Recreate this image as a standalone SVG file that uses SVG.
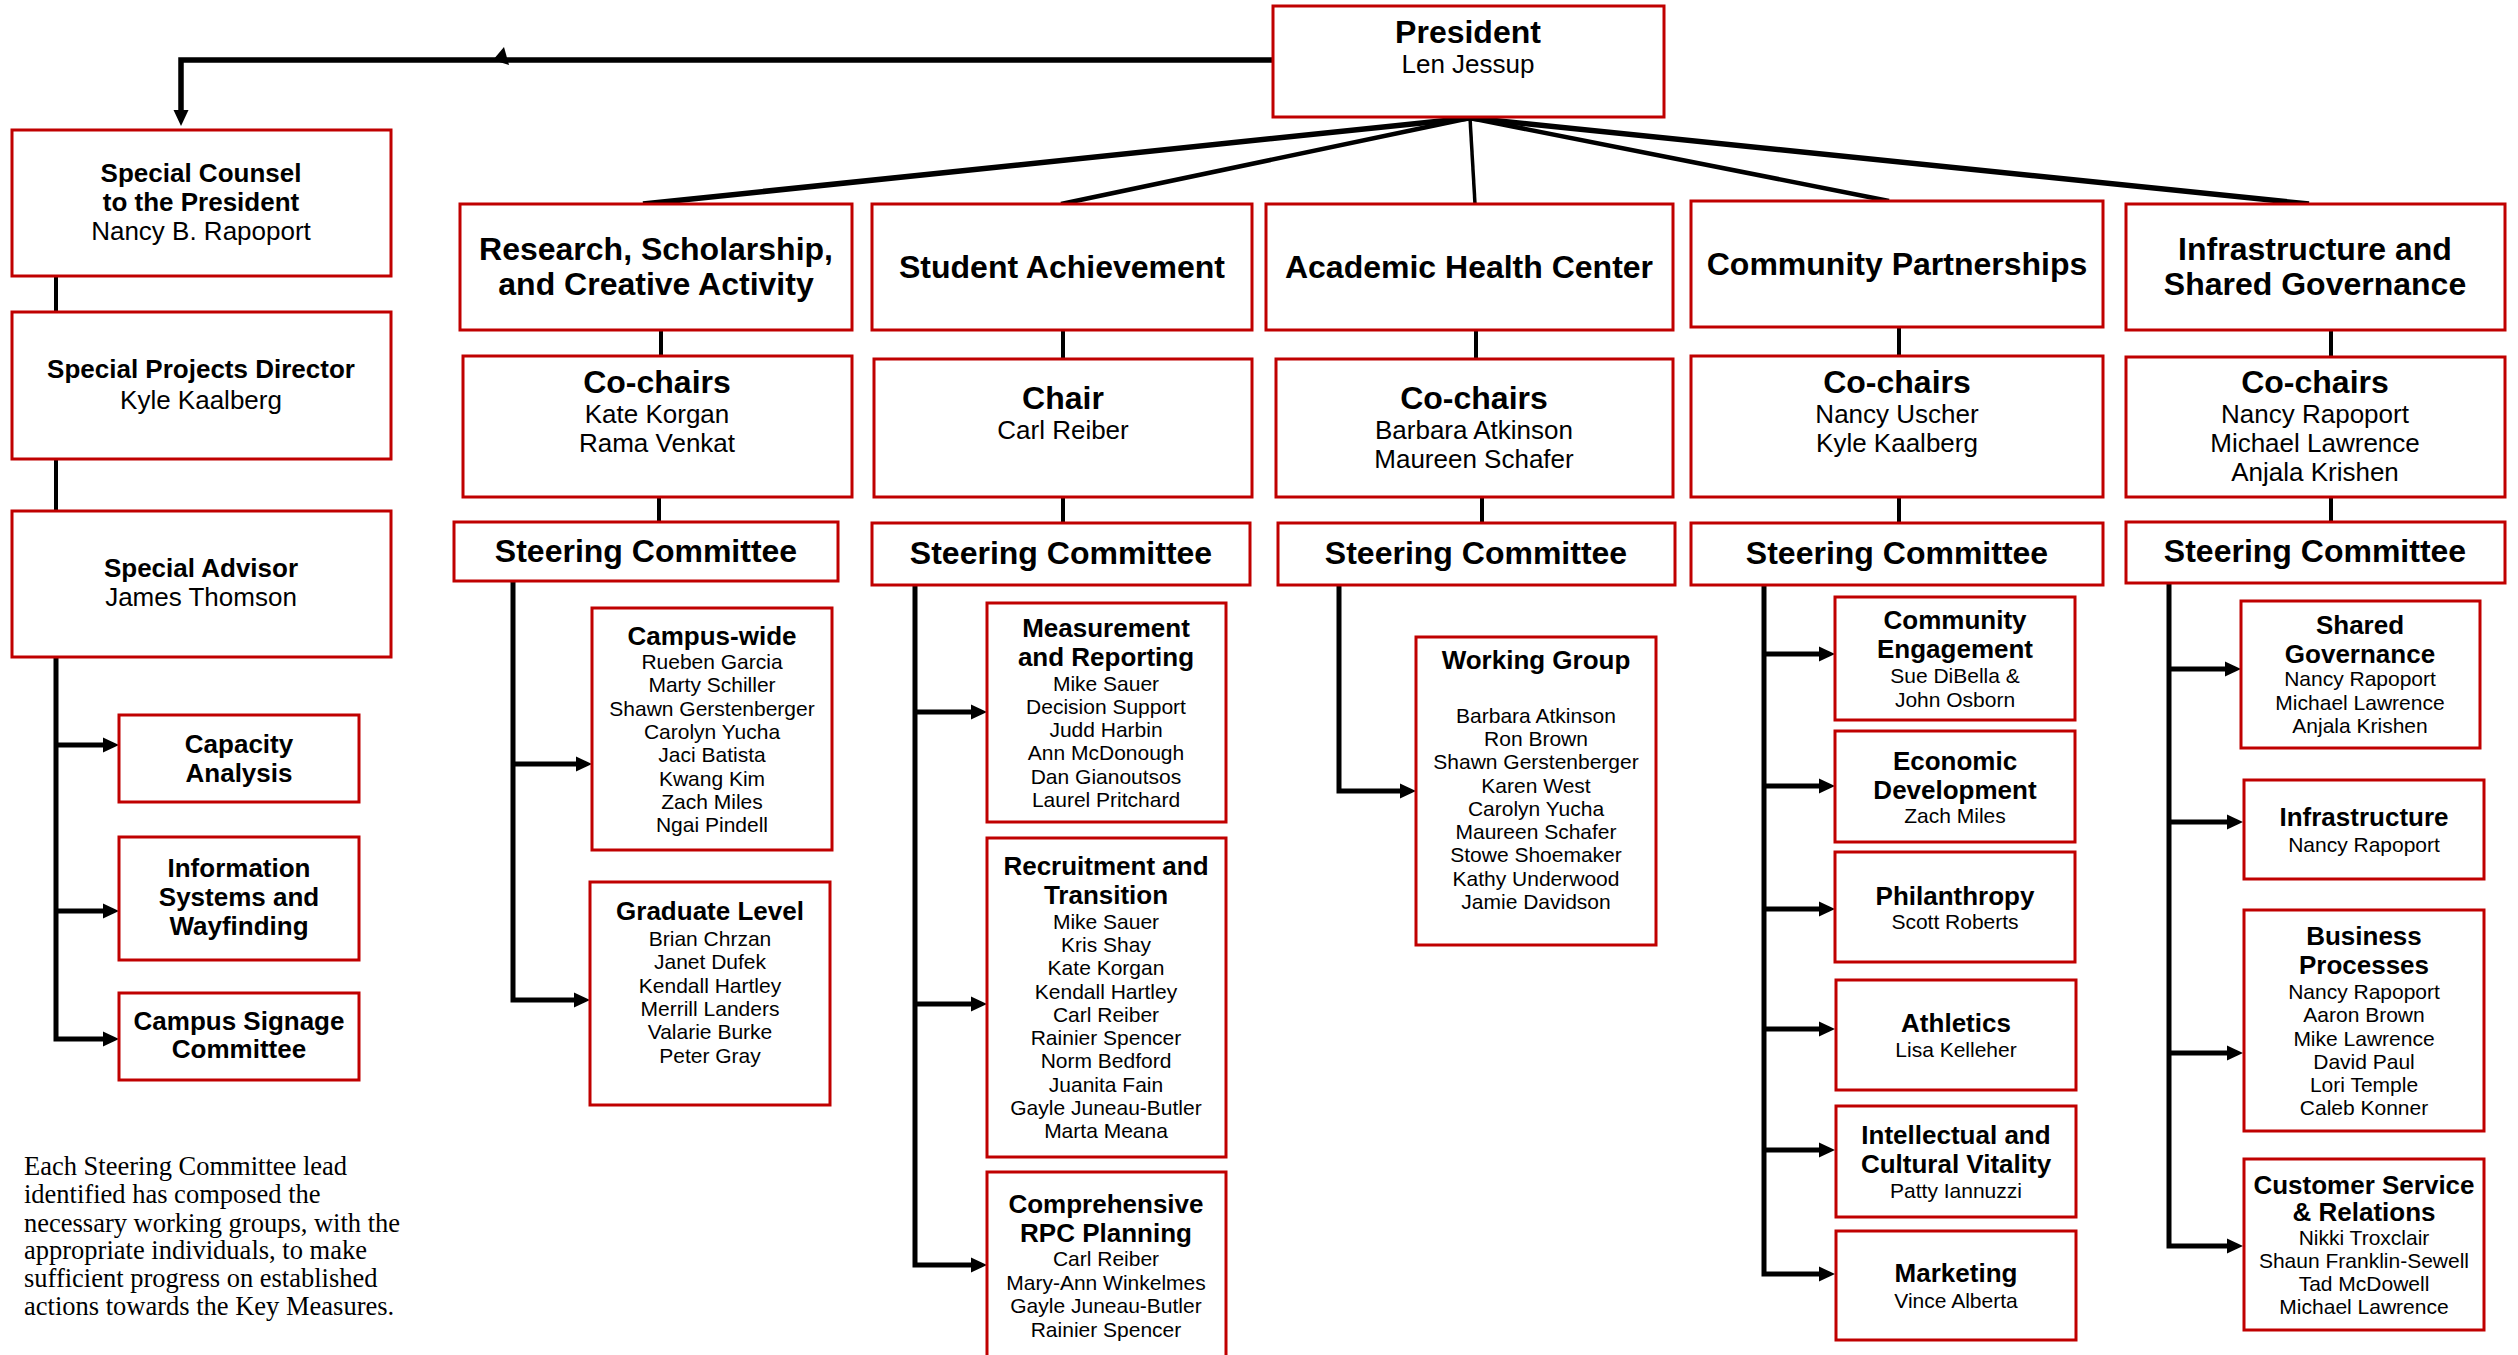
<svg xmlns="http://www.w3.org/2000/svg" width="2518" height="1355" viewBox="0 0 2518 1355">
<style>
.box{fill:#fff;stroke:#c00000;stroke-width:3}
text{font-family:"Liberation Sans",Arial,sans-serif;text-anchor:middle;fill:#000}
.h{font-size:32px;font-weight:bold}
.b{font-size:26px;font-weight:bold}
.r{font-size:26px}
.n{font-size:21px}
.note{font-family:"Liberation Serif","Times New Roman",serif;font-size:26.5px;text-anchor:start}
.ln{stroke:#000;fill:none;stroke-width:5}
.tl{stroke:#000;fill:none;stroke-width:4}
</style>
<defs>
<marker id="ah" markerUnits="userSpaceOnUse" markerWidth="17" markerHeight="16" refX="0" refY="7.5" orient="auto" overflow="visible">
<path d="M0,0 L16,7.5 L0,15 z" fill="#000"/>
</marker>
</defs>
<rect width="2518" height="1355" fill="#fff"/>
<g id="connectors">
<line class="ln" x1="1470" y1="118" x2="643" y2="204" style="stroke-width:5.5"/>
<line class="ln" x1="1470" y1="118" x2="1061" y2="204" style="stroke-width:4.5"/>
<line class="ln" x1="1470" y1="118" x2="1475" y2="204" style="stroke-width:3.5"/>
<line class="ln" x1="1470" y1="118" x2="1889" y2="201" style="stroke-width:4.5"/>
<line class="ln" x1="1470" y1="118" x2="2309" y2="204" style="stroke-width:5.5"/>
<path class="ln" d="M1273,60 H181 V110" marker-end="url(#ah)" style="stroke-width:5.5"/>
<polygon points="493,60 504,47 509,65" fill="#000"/>
<line class="tl" x1="661" y1="330" x2="661" y2="356"/>
<line class="tl" x1="659" y1="497" x2="659" y2="522"/>
<line class="tl" x1="1063" y1="330" x2="1063" y2="359"/>
<line class="tl" x1="1063" y1="497" x2="1063" y2="523"/>
<line class="tl" x1="1476" y1="330" x2="1476" y2="359"/>
<line class="tl" x1="1482" y1="497" x2="1482" y2="523"/>
<line class="tl" x1="1899" y1="327" x2="1899" y2="356"/>
<line class="tl" x1="1899" y1="497" x2="1899" y2="523"/>
<line class="tl" x1="2331" y1="330" x2="2331" y2="357"/>
<line class="tl" x1="2331" y1="497" x2="2331" y2="522"/>
<line class="tl" x1="56" y1="276" x2="56" y2="312"/>
<line class="tl" x1="56" y1="459" x2="56" y2="511"/>
<path class="ln" d="M56,657 V1039 H103" marker-end="url(#ah)"/>
<path class="ln" d="M56,745 H103" marker-end="url(#ah)"/>
<path class="ln" d="M56,911 H103" marker-end="url(#ah)"/>
<path class="ln" d="M513,581 V1000 H574" marker-end="url(#ah)"/>
<path class="ln" d="M513,764 H576" marker-end="url(#ah)"/>
<path class="ln" d="M915,585 V1265 H971" marker-end="url(#ah)"/>
<path class="ln" d="M915,712 H971" marker-end="url(#ah)"/>
<path class="ln" d="M915,1004 H971" marker-end="url(#ah)"/>
<path class="ln" d="M1339,585 V791 H1400" marker-end="url(#ah)"/>
<path class="ln" d="M1764,585 V1274 H1819" marker-end="url(#ah)"/>
<path class="ln" d="M1764,654 H1819" marker-end="url(#ah)"/>
<path class="ln" d="M1764,786 H1819" marker-end="url(#ah)"/>
<path class="ln" d="M1764,909 H1819" marker-end="url(#ah)"/>
<path class="ln" d="M1764,1029 H1819" marker-end="url(#ah)"/>
<path class="ln" d="M1764,1150 H1819" marker-end="url(#ah)"/>
<path class="ln" d="M2169,583 V1246 H2227" marker-end="url(#ah)"/>
<path class="ln" d="M2169,669 H2225" marker-end="url(#ah)"/>
<path class="ln" d="M2169,822 H2227" marker-end="url(#ah)"/>
<path class="ln" d="M2169,1053 H2227" marker-end="url(#ah)"/>
</g>
<g id="president"><rect class="box" x="1273" y="6" width="391" height="111"/>
<text class="h" x="1468" y="43">President</text><text class="r" x="1468" y="73">Len Jessup</text></g>
<g id="special-counsel"><rect class="box" x="12" y="130" width="379" height="146"/>
<text class="b" x="201" y="182">Special Counsel</text><text class="b" x="201" y="211">to the President</text><text class="r" x="201" y="240">Nancy B. Rapoport</text></g>
<g id="special-projects"><rect class="box" x="12" y="312" width="379" height="147"/>
<text class="b" x="201" y="378">Special Projects Director</text><text class="r" x="201" y="409">Kyle Kaalberg</text></g>
<g id="special-advisor"><rect class="box" x="12" y="511" width="379" height="146"/>
<text class="b" x="201" y="577">Special Advisor</text><text class="r" x="201" y="606">James Thomson</text></g>
<g id="capacity"><rect class="box" x="119" y="715" width="240" height="87"/>
<text class="b" x="239" y="753">Capacity</text><text class="b" x="239" y="782">Analysis</text></g>
<g id="info-systems"><rect class="box" x="119" y="837" width="240" height="123"/>
<text class="b" x="239" y="877">Information</text><text class="b" x="239" y="906">Systems and</text><text class="b" x="239" y="935">Wayfinding</text></g>
<g id="signage"><rect class="box" x="119" y="993" width="240" height="87"/>
<text class="b" x="239" y="1030">Campus Signage</text><text class="b" x="239" y="1058">Committee</text></g>

<g id="rsca"><rect class="box" x="460" y="204" width="392" height="126"/>
<text class="h" x="656" y="260">Research, Scholarship,</text><text class="h" x="656" y="295">and Creative Activity</text></g>
<g id="rsca-chairs"><rect class="box" x="463" y="356" width="389" height="141"/>
<text class="h" x="657" y="393">Co-chairs</text><text class="r" x="657" y="423">Kate Korgan</text><text class="r" x="657" y="452">Rama Venkat</text></g>
<g id="rsca-steering"><rect class="box" x="454" y="522" width="384" height="59"/>
<text class="h" x="646" y="562">Steering Committee</text></g>
<g id="campus-wide"><rect class="box" x="592" y="608" width="240" height="242"/>
<text class="b" x="712" y="645">Campus-wide</text>
<text class="n" x="712" y="669">Rueben Garcia</text><text class="n" x="712" y="692">Marty Schiller</text><text class="n" x="712" y="716">Shawn Gerstenberger</text><text class="n" x="712" y="739">Carolyn Yucha</text><text class="n" x="712" y="762">Jaci Batista</text><text class="n" x="712" y="786">Kwang Kim</text><text class="n" x="712" y="809">Zach Miles</text><text class="n" x="712" y="832">Ngai Pindell</text></g>
<g id="graduate"><rect class="box" x="590" y="882" width="240" height="223"/>
<text class="b" x="710" y="920">Graduate Level</text>
<text class="n" x="710" y="946">Brian Chrzan</text><text class="n" x="710" y="969">Janet Dufek</text><text class="n" x="710" y="993">Kendall Hartley</text><text class="n" x="710" y="1016">Merrill Landers</text><text class="n" x="710" y="1039">Valarie Burke</text><text class="n" x="710" y="1063">Peter Gray</text></g>

<g id="sa"><rect class="box" x="872" y="204" width="380" height="126"/>
<text class="h" x="1062" y="278">Student Achievement</text></g>
<g id="sa-chair"><rect class="box" x="874" y="359" width="378" height="138"/>
<text class="h" x="1063" y="409">Chair</text><text class="r" x="1063" y="439">Carl Reiber</text></g>
<g id="sa-steering"><rect class="box" x="872" y="523" width="378" height="62"/>
<text class="h" x="1061" y="564">Steering Committee</text></g>
<g id="measurement"><rect class="box" x="987" y="603" width="239" height="219"/>
<text class="b" x="1106" y="637">Measurement</text><text class="b" x="1106" y="666">and Reporting</text>
<text class="n" x="1106" y="691">Mike Sauer</text><text class="n" x="1106" y="714">Decision Support</text><text class="n" x="1106" y="737">Judd Harbin</text><text class="n" x="1106" y="760">Ann McDonough</text><text class="n" x="1106" y="784">Dan Gianoutsos</text><text class="n" x="1106" y="807">Laurel Pritchard</text></g>
<g id="recruitment"><rect class="box" x="987" y="838" width="239" height="319"/>
<text class="b" x="1106" y="875">Recruitment and</text><text class="b" x="1106" y="904">Transition</text>
<text class="n" x="1106" y="929">Mike Sauer</text><text class="n" x="1106" y="952">Kris Shay</text><text class="n" x="1106" y="975">Kate Korgan</text><text class="n" x="1106" y="999">Kendall Hartley</text><text class="n" x="1106" y="1022">Carl Reiber</text><text class="n" x="1106" y="1045">Rainier Spencer</text><text class="n" x="1106" y="1068">Norm Bedford</text><text class="n" x="1106" y="1092">Juanita Fain</text><text class="n" x="1106" y="1115">Gayle Juneau-Butler</text><text class="n" x="1106" y="1138">Marta Meana</text></g>
<g id="comprehensive"><rect class="box" x="987" y="1172" width="239" height="200"/>
<text class="b" x="1106" y="1213">Comprehensive</text><text class="b" x="1106" y="1242">RPC Planning</text>
<text class="n" x="1106" y="1266">Carl Reiber</text><text class="n" x="1106" y="1290">Mary-Ann Winkelmes</text><text class="n" x="1106" y="1313">Gayle Juneau-Butler</text><text class="n" x="1106" y="1337">Rainier Spencer</text></g>

<g id="ahc"><rect class="box" x="1266" y="204" width="407" height="126"/>
<text class="h" x="1469" y="278">Academic Health Center</text></g>
<g id="ahc-chairs"><rect class="box" x="1276" y="359" width="397" height="138"/>
<text class="h" x="1474" y="409">Co-chairs</text><text class="r" x="1474" y="439">Barbara Atkinson</text><text class="r" x="1474" y="468">Maureen Schafer</text></g>
<g id="ahc-steering"><rect class="box" x="1278" y="523" width="397" height="62"/>
<text class="h" x="1476" y="564">Steering Committee</text></g>
<g id="working-group"><rect class="box" x="1416" y="637" width="240" height="308"/>
<text class="b" x="1536" y="669">Working Group</text>
<text class="n" x="1536" y="723">Barbara Atkinson</text><text class="n" x="1536" y="746">Ron Brown</text><text class="n" x="1536" y="769">Shawn Gerstenberger</text><text class="n" x="1536" y="793">Karen West</text><text class="n" x="1536" y="816">Carolyn Yucha</text><text class="n" x="1536" y="839">Maureen Schafer</text><text class="n" x="1536" y="862">Stowe Shoemaker</text><text class="n" x="1536" y="886">Kathy Underwood</text><text class="n" x="1536" y="909">Jamie Davidson</text></g>

<g id="cp"><rect class="box" x="1691" y="201" width="412" height="126"/>
<text class="h" x="1897" y="275">Community Partnerships</text></g>
<g id="cp-chairs"><rect class="box" x="1691" y="356" width="412" height="141"/>
<text class="h" x="1897" y="393">Co-chairs</text><text class="r" x="1897" y="423">Nancy Uscher</text><text class="r" x="1897" y="452">Kyle Kaalberg</text></g>
<g id="cp-steering"><rect class="box" x="1691" y="523" width="412" height="62"/>
<text class="h" x="1897" y="564">Steering Committee</text></g>
<g id="community-engagement"><rect class="box" x="1835" y="597" width="240" height="123"/>
<text class="b" x="1955" y="629">Community</text><text class="b" x="1955" y="658">Engagement</text><text class="n" x="1955" y="683">Sue DiBella &amp;</text><text class="n" x="1955" y="707">John Osborn</text></g>
<g id="economic"><rect class="box" x="1835" y="731" width="240" height="111"/>
<text class="b" x="1955" y="770">Economic</text><text class="b" x="1955" y="799">Development</text><text class="n" x="1955" y="823">Zach Miles</text></g>
<g id="philanthropy"><rect class="box" x="1835" y="852" width="240" height="110"/>
<text class="b" x="1955" y="905">Philanthropy</text><text class="n" x="1955" y="929">Scott Roberts</text></g>
<g id="athletics"><rect class="box" x="1836" y="980" width="240" height="110"/>
<text class="b" x="1956" y="1032">Athletics</text><text class="n" x="1956" y="1057">Lisa Kelleher</text></g>
<g id="intellectual"><rect class="box" x="1836" y="1106" width="240" height="111"/>
<text class="b" x="1956" y="1144">Intellectual and</text><text class="b" x="1956" y="1173">Cultural Vitality</text><text class="n" x="1956" y="1198">Patty Iannuzzi</text></g>
<g id="marketing"><rect class="box" x="1836" y="1231" width="240" height="109"/>
<text class="b" x="1956" y="1282">Marketing</text><text class="n" x="1956" y="1308">Vince Alberta</text></g>

<g id="isg"><rect class="box" x="2126" y="204" width="379" height="126"/>
<text class="h" x="2315" y="260">Infrastructure and</text><text class="h" x="2315" y="295">Shared Governance</text></g>
<g id="isg-chairs"><rect class="box" x="2126" y="357" width="379" height="140"/>
<text class="h" x="2315" y="393">Co-chairs</text><text class="r" x="2315" y="423">Nancy Rapoport</text><text class="r" x="2315" y="452">Michael Lawrence</text><text class="r" x="2315" y="481">Anjala Krishen</text></g>
<g id="isg-steering"><rect class="box" x="2126" y="522" width="379" height="61"/>
<text class="h" x="2315" y="562">Steering Committee</text></g>
<g id="shared-governance"><rect class="box" x="2241" y="601" width="239" height="147"/>
<text class="b" x="2360" y="634">Shared</text><text class="b" x="2360" y="663">Governance</text><text class="n" x="2360" y="686">Nancy Rapoport</text><text class="n" x="2360" y="710">Michael Lawrence</text><text class="n" x="2360" y="733">Anjala Krishen</text></g>
<g id="infrastructure"><rect class="box" x="2244" y="780" width="240" height="99"/>
<text class="b" x="2364" y="826">Infrastructure</text><text class="n" x="2364" y="852">Nancy Rapoport</text></g>
<g id="business"><rect class="box" x="2244" y="910" width="240" height="221"/>
<text class="b" x="2364" y="945">Business</text><text class="b" x="2364" y="974">Processes</text>
<text class="n" x="2364" y="999">Nancy Rapoport</text><text class="n" x="2364" y="1022">Aaron Brown</text><text class="n" x="2364" y="1046">Mike Lawrence</text><text class="n" x="2364" y="1069">David Paul</text><text class="n" x="2364" y="1092">Lori Temple</text><text class="n" x="2364" y="1115">Caleb Konner</text></g>
<g id="customer"><rect class="box" x="2244" y="1159" width="240" height="171"/>
<text class="b" x="2364" y="1194">Customer Service</text><text class="b" x="2364" y="1221">&amp; Relations</text>
<text class="n" x="2364" y="1245">Nikki Troxclair</text><text class="n" x="2364" y="1268">Shaun Franklin-Sewell</text><text class="n" x="2364" y="1291">Tad McDowell</text><text class="n" x="2364" y="1314">Michael Lawrence</text></g>

<g id="note">
<text class="note" x="24" y="1175">Each Steering Committee lead</text>
<text class="note" x="24" y="1203">identified has composed the</text>
<text class="note" x="24" y="1232">necessary working groups, with the</text>
<text class="note" x="24" y="1259">appropriate individuals, to make</text>
<text class="note" x="24" y="1287">sufficient progress on established</text>
<text class="note" x="24" y="1315">actions towards the Key Measures.</text>
</g>
</svg>
